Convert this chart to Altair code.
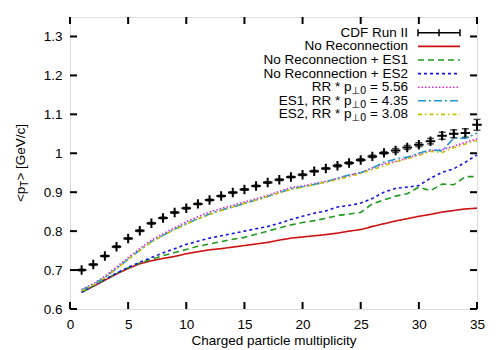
import altair as alt
import pandas as pd

# ---------------- data ----------------
mult = list(range(1, 36))

cdf = [0.700, 0.714, 0.736, 0.760, 0.781, 0.801, 0.820, 0.834, 0.848, 0.859,
       0.870, 0.880, 0.890, 0.899, 0.907, 0.916, 0.925, 0.932, 0.939, 0.945,
       0.954, 0.961, 0.968, 0.975, 0.983, 0.992, 1.001, 1.007, 1.015, 1.022,
       1.031, 1.045, 1.050, 1.052, 1.073]
cdf_err = [0.002] * 22 + [0.003] * 5 + [0.005] * 3 + [0.007, 0.009, 0.010, 0.011, 0.014]

no_rec = [0.643, 0.658, 0.674, 0.690, 0.704, 0.716, 0.724, 0.730, 0.735, 0.742,
          0.747, 0.752, 0.755, 0.759, 0.763, 0.767, 0.771, 0.777, 0.782, 0.785,
          0.788, 0.791, 0.795, 0.800, 0.804, 0.812, 0.819, 0.826, 0.832, 0.838,
          0.843, 0.849, 0.853, 0.857, 0.859]
es1 = [0.643, 0.659, 0.676, 0.691, 0.706, 0.718, 0.728, 0.737, 0.745, 0.753,
       0.761, 0.767, 0.773, 0.779, 0.784, 0.792, 0.800, 0.808, 0.816, 0.822,
       0.827, 0.833, 0.840, 0.844, 0.848, 0.870, 0.880, 0.890, 0.896, 0.913,
       0.904, 0.921, 0.919, 0.940, 0.940]
es2 = [0.643, 0.659, 0.676, 0.692, 0.707, 0.720, 0.732, 0.744, 0.755, 0.766,
       0.774, 0.782, 0.788, 0.794, 0.800, 0.806, 0.812, 0.820, 0.830, 0.838,
       0.846, 0.852, 0.862, 0.866, 0.872, 0.884, 0.900, 0.910, 0.913, 0.917,
       0.936, 0.951, 0.960, 0.977, 0.996]
rr = [0.650, 0.665, 0.684, 0.708, 0.732, 0.755, 0.777, 0.793, 0.809, 0.824,
      0.837, 0.849, 0.858, 0.866, 0.875, 0.883, 0.892, 0.902, 0.912, 0.916,
      0.922, 0.928, 0.935, 0.943, 0.951, 0.962, 0.973, 0.979, 0.987, 0.998,
      1.007, 1.009, 1.018, 1.028, 1.037]
es1_rr = [0.648, 0.663, 0.681, 0.704, 0.728, 0.751, 0.773, 0.789, 0.805, 0.819,
          0.832, 0.844, 0.854, 0.862, 0.871, 0.880, 0.889, 0.899, 0.909, 0.914,
          0.920, 0.926, 0.936, 0.944, 0.950, 0.962, 0.977, 0.985, 0.990, 1.000,
          1.009, 1.006, 1.039, 1.038, 1.052]
es2_rr = [0.646, 0.661, 0.680, 0.703, 0.727, 0.750, 0.772, 0.788, 0.804, 0.818,
          0.831, 0.843, 0.853, 0.862, 0.871, 0.880, 0.889, 0.898, 0.907, 0.913,
          0.919, 0.926, 0.932, 0.940, 0.948, 0.958, 0.968, 0.978, 0.986, 0.994,
          1.005, 1.002, 1.014, 1.024, 1.033]

x_ticks = [0, 5, 10, 15, 20, 25, 30, 35]
y_ticks = [0.6, 0.7, 0.8, 0.9, 1.0, 1.1, 1.2, 1.3]

data_label = "CDF Run II"
series_labels = ["No Reconnection", "No Reconnection + ES1", "No Reconnection + ES2",
                 ("RR * p", "⊥0", " = 5.56"), ("ES1, RR * p", "⊥0", " = 4.35"),
                 ("ES2, RR * p", "⊥0", " = 3.08")]
series_values = [no_rec, es1, es2, rr, es1_rr, es2_rr]

# ---------------- styles ----------------
colors = ["#cc1111", "#1f9a1f", "#1515e0", "#e020e0", "#2096d0", "#c8c000"]
dashes = [[1, 0], [6, 4], [3, 3], [1.5, 2], [8, 3, 2, 3], [4, 3, 1.5, 3]]
FONT = "Liberation Sans"
FS = 13.5
W, H = 407, 292

xscale = alt.Scale(domain=[0, 35], nice=False, zero=False)
yscale = alt.Scale(domain=[0.6, 1.35], nice=False, zero=False)
xaxis = alt.Axis(values=x_ticks, tickSize=0, domain=False, grid=False, labelFlush=False,
                 labelFont=FONT, labelFontSize=FS, labelColor="black", labelPadding=8,
                 title="Charged particle multiplicity", titleFont=FONT, titleFontSize=FS,
                 titleFontWeight="normal", titleColor="black", titlePadding=3)
yaxis = alt.Axis(values=y_ticks, tickSize=0, domain=False, grid=False, labelFlush=False,
                 labelFont=FONT, labelFontSize=FS, labelColor="black", labelPadding=8,
                 labelExpr="format(datum.value, '~g')", title=None)
X = alt.X("n:Q", scale=xscale, axis=xaxis)

cdf_df = pd.DataFrame({"n": mult, "v": cdf, "err": cdf_err})
cdf_df["lo"] = cdf_df["v"] - cdf_df["err"]
cdf_df["hi"] = cdf_df["v"] + cdf_df["err"]

layers = []
# error bars
base = alt.Chart(cdf_df)
layers.append(base.mark_rule(color="black", strokeWidth=1.5).encode(
    x=X, y=alt.Y("lo:Q", scale=yscale, axis=yaxis), y2="hi:Q"))
layers.append(base.mark_tick(orient="horizontal", color="black", size=7, thickness=1.5).encode(
    x=X, y=alt.Y("lo:Q", scale=yscale, axis=yaxis)))
layers.append(base.mark_tick(orient="horizontal", color="black", size=7, thickness=1.5).encode(
    x=X, y=alt.Y("hi:Q", scale=yscale, axis=yaxis)))
layers.append(base.mark_point(shape="M-1,0L1,0M0,-1L0,1", filled=False, color="black",
                              strokeWidth=2, size=90, opacity=1).encode(
    x=X, y=alt.Y("v:Q", scale=yscale, axis=yaxis)))

for vals, col, dash in zip(series_values, colors, dashes):
    df = pd.DataFrame({"n": mult, "v": vals})
    layers.append(alt.Chart(df).mark_line(color=col, strokeDash=dash, strokeWidth=1.6).encode(
        x=X, y=alt.Y("v:Q", scale=yscale, axis=yaxis)))

# frame ticks (inward)
TL = 7
tx = pd.DataFrame({"n": x_ticks})
ty = pd.DataFrame({"v": y_ticks})
layers.append(alt.Chart(tx).mark_rule(color="black", strokeWidth=2).encode(
    x=X, y=alt.value(H), y2=alt.value(H - TL)))
layers.append(alt.Chart(tx).mark_rule(color="black", strokeWidth=2).encode(
    x=X, y=alt.value(0), y2=alt.value(TL)))
layers.append(alt.Chart(ty).mark_rule(color="black", strokeWidth=2).encode(
    y=alt.Y("v:Q", scale=yscale, axis=yaxis), x=alt.value(0), x2=alt.value(TL)))
layers.append(alt.Chart(ty).mark_rule(color="black", strokeWidth=2).encode(
    y=alt.Y("v:Q", scale=yscale, axis=yaxis), x=alt.value(W), x2=alt.value(W - TL)))

# ---------------- legend ----------------
one = pd.DataFrame({"k": [0]})
LX = 338          # right edge of legend texts
S0, S1 = 348, 390  # sample line extent
ROW0, DROW = 15.8, 13.6


def text(t, x, y, size=FS, font=FONT, dx=0, dy=0, align="right", angle=0):
    return alt.Chart(one).mark_text(text=t, font=font, fontSize=size, align=align,
                                    baseline="middle", dx=dx, dy=dy, angle=angle,
                                    color="black").encode(x=alt.value(x), y=alt.value(y))


def arial_w(s, size):
    m = {" ": 278, "=": 584, ".": 278, ",": 278, "*": 389, "R": 722, "p": 556,
         "E": 667, "S": 667, "<": 584, ">": 584, "[": 278, "]": 278, "G": 778,
         "e": 556, "V": 667, "/": 278, "c": 500}
    return sum(m.get(ch, 556) for ch in s) / 1000 * size


# CDF row
y0 = ROW0
layers.append(text(data_label, LX, y0))
layers.append(alt.Chart(one).mark_rule(color="black", strokeWidth=1.5).encode(
    x=alt.value(S0), x2=alt.value(S1), y=alt.value(y0)))
for xx in (S0, (S0 + S1) / 2, S1):
    layers.append(alt.Chart(one).mark_rule(color="black", strokeWidth=1.5).encode(
        x=alt.value(xx), y=alt.value(y0 - 3.5), y2=alt.value(y0 + 3.5)))

SUB = 10
for i, (lab, col, dash) in enumerate(zip(series_labels, colors, dashes)):
    yy = ROW0 + DROW * (i + 1)
    if isinstance(lab, tuple):
        a, b, c = lab
        w3 = arial_w(c, FS)
        w2 = (0.838 + 0.636) * SUB
        layers.append(text(c, LX, yy))
        layers.append(text(b, LX, yy, size=SUB, font="DejaVu Sans", dx=-w3, dy=4))
        layers.append(text(a, LX, yy, dx=-w3 - w2))
    else:
        layers.append(text(lab, LX, yy))
    layers.append(alt.Chart(one).mark_rule(color=col, strokeDash=dash, strokeWidth=1.6).encode(
        x=alt.value(S0), x2=alt.value(S1), y=alt.value(yy)))

# ---------------- y-axis title with subscript ----------------
YX = 21 - 70.3
w1 = arial_w("<p", FS)
wT = 0.611 * 10
wrest = arial_w("> [GeV/c]", FS)
total = w1 + wT + wrest
YB = H / 2 + total / 2
layers.append(text("<p", YX, YB, align="left", angle=270))
layers.append(text("T", YX, YB, size=10, align="left", angle=270, dx=w1, dy=4))
layers.append(text("> [GeV/c]", YX, YB, align="left", angle=270, dx=w1 + wT))

chart = alt.layer(*layers).properties(
    width=W, height=H,
    autosize="none",
    padding={"left": 62, "top": 9, "right": 15, "bottom": 41},
).configure_view(stroke="black", strokeWidth=2.5).configure(background="white")

chart.save("out.html", embed_options={"renderer": "svg", "actions": False})
